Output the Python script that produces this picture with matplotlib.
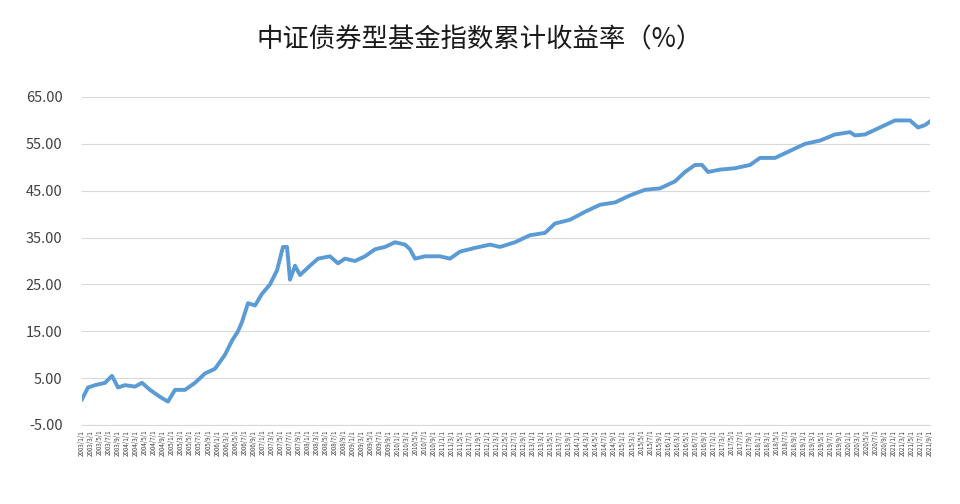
import matplotlib
matplotlib.use("Agg")
import matplotlib.pyplot as plt
import numpy as np

plt.rcParams['font.family'] = ['Noto Sans CJK SC', 'DejaVu Sans']

px = [82,88,95,105,112,118,125,135,142,150,160,168,175,185,195,205,215,225,232,238,242,248,255,262,270,277,283,287,290,295,300,310,318,330,338,345,355,365,375,385,395,405,410,415,425,440,450,460,475,490,500,515,530,545,555,570,585,600,615,630,645,660,675,685,695,702,708,720,735,750,760,775,790,805,820,835,850,855,865,880,895,910,918,925,930]
values = [0.5,3,3.5,4,5.5,3,3.5,3.2,4,2.5,1,0,2.5,2.5,4,6,7,10,13,15,17,21,20.5,23,25,28,33,33,26,29,27,29,30.5,31,29.5,30.5,30,31,32.5,33,34,33.5,32.5,30.5,31,31,30.5,32,32.8,33.5,33,34,35.5,36,38,38.8,40.5,42,42.5,44,45.2,45.5,47,49,50.5,50.5,49,49.5,49.8,50.5,52,52,53.5,55,55.7,57,57.5,56.8,57,58.5,60,60,58.5,59,59.8]

years = list(range(2003, 2022))
months = [1, 3, 5, 7, 9]
tick_labels = [f"{y}/{m}/1" for y in years for m in months][:95]

fig = plt.figure(figsize=(9.6, 5.04), dpi=100)
ax = fig.add_axes([82/960, 1-425/504, (930-82)/960, (425-97)/504])
x = (np.array(px) - 82) / (930 - 82)
ax.plot(x, values, color='#5B9BD5', lw=2.8, solid_joinstyle='round')
ax.set_xlim(0, 1)
ax.set_ylim(-5, 65)
ax.set_yticks(np.arange(-5, 66, 10))
ax.set_yticklabels([f"{v:.2f}" for v in np.arange(-5, 66, 10)], fontsize=10.5, color='#404040')
ax.yaxis.grid(True, color='#D9D9D9', lw=0.8)
ax.set_axisbelow(True)
for s in ['top', 'right', 'left']:
    ax.spines[s].set_visible(False)
ax.spines['bottom'].set_color('#D9D9D9')
ax.tick_params(axis='y', length=0, pad=14)
ax.set_xticks(np.linspace(0, 1, len(tick_labels)))
ax.set_xticklabels(tick_labels, rotation=90, fontsize=4.5, color='#404040')
ax.tick_params(axis='x', length=0)
fig.text(0.5, 1-40/504, "中证债券型基金指数累计收益率（%）", ha='center', va='center', fontsize=19, color='#1a1a1a')
fig.savefig("out.png", dpi=100, facecolor='white')
